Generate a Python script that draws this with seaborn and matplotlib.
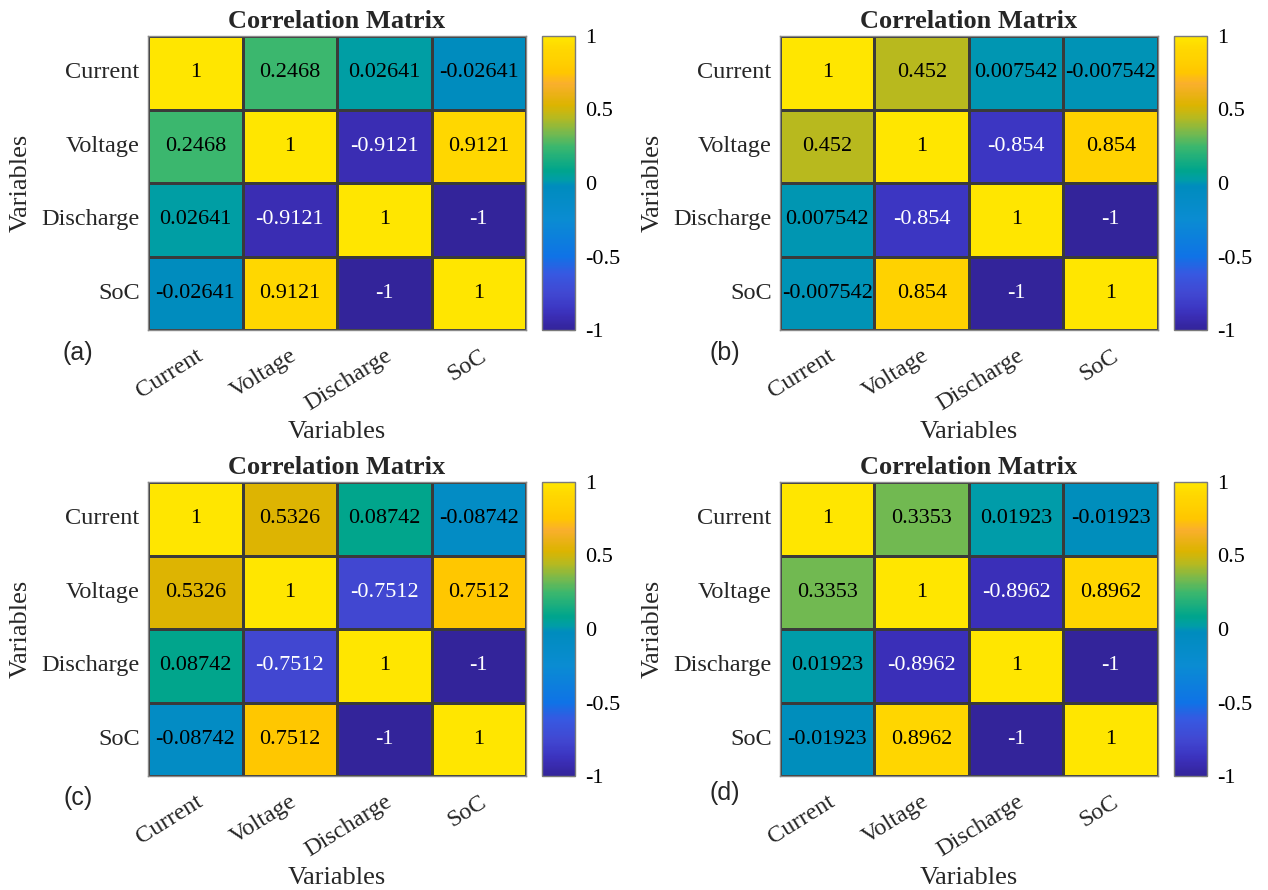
import numpy as np
import pandas as pd
import matplotlib
matplotlib.use("Agg")
import matplotlib.pyplot as plt
from matplotlib.colors import LinearSegmentedColormap
from matplotlib.ticker import FuncFormatter
import seaborn as sns

# ---- data -----------------------------------------------------------------
variables = ["Current", "Voltage", "Discharge", "SoC"]
panel_tags = ["(a)", "(b)", "(c)", "(d)"]

corr_a = [[1, 0.2468, 0.02641, -0.02641],
          [0.2468, 1, -0.9121, 0.9121],
          [0.02641, -0.9121, 1, -1],
          [-0.02641, 0.9121, -1, 1]]
corr_b = [[1, 0.452, 0.007542, -0.007542],
          [0.452, 1, -0.854, 0.854],
          [0.007542, -0.854, 1, -1],
          [-0.007542, 0.854, -1, 1]]
corr_c = [[1, 0.5326, 0.08742, -0.08742],
          [0.5326, 1, -0.7512, 0.7512],
          [0.08742, -0.7512, 1, -1],
          [-0.08742, 0.7512, -1, 1]]
corr_d = [[1, 0.3353, 0.01923, -0.01923],
          [0.3353, 1, -0.8962, 0.8962],
          [0.01923, -0.8962, 1, -1],
          [-0.01923, 0.8962, -1, 1]]
matrices = [corr_a, corr_b, corr_c, corr_d]

cbar_ticks = [-1, -0.5, 0, 0.5, 1]

# ---- style ----------------------------------------------------------------
sns.set_style("white")
plt.rcParams["font.family"] = ["Liberation Serif", "DejaVu Serif"]
plt.rcParams["axes.unicode_minus"] = False

# parula-like colour ramp
parula_stops = [
    (0.000, "#33249a"), (0.044, "#3a2db4"), (0.073, "#3c37c3"),
    (0.124, "#4148d2"), (0.190, "#3758e1"), (0.250, "#0f73e6"),
    (0.375, "#0a8cd2"), (0.487, "#008cbe"), (0.500, "#0094b4"),
    (0.513, "#009ea5"), (0.544, "#00a58c"), (0.623, "#3ab76e"),
    (0.668, "#73b950"), (0.726, "#b9b91e"), (0.766, "#dcb400"),
    (0.840, "#faaf2d"), (0.876, "#ffc600"), (0.927, "#ffd200"),
    (0.956, "#ffd700"), (1.000, "#ffe600"),
]
parula = LinearSegmentedColormap.from_list("parula_like", parula_stops, N=256)

W, H = 1268, 890
fig = plt.figure(figsize=(W / 100, H / 100), dpi=100)

# panel geometry in pixels: (heatmap left, top), shared width/height
hm_w, hm_h = 378, 294
cb_gap, cb_w = 16, 33
origins = [(148, 36), (780, 36), (148, 482), (780, 482)]
tag_xy = [(78, 353), (725, 353), (78, 798), (725, 793)]


def frac_rect(left, top, w, h):
    return [left / W, 1 - (top + h) / H, w / W, h / H]


for mat, tag, (x0, y0), (tx, ty) in zip(matrices, panel_tags, origins, tag_xy):
    ax = fig.add_axes(frac_rect(x0, y0, hm_w, hm_h))
    cax = fig.add_axes(frac_rect(x0 + hm_w + cb_gap, y0, cb_w, hm_h))

    df = pd.DataFrame(mat, index=variables, columns=variables)
    labels = df.map(lambda v: "%.4g" % v).values

    sns.heatmap(df, ax=ax, cbar_ax=cax, cmap=parula, vmin=-1, vmax=1,
                annot=labels, fmt="", linewidths=0.8, linecolor="#3a3a3a",
                annot_kws={"fontsize": 16, "family": "Liberation Serif"},
                cbar_kws={"ticks": cbar_ticks})

    # annotation colour: light text on dark cells
    for txt, val in zip(ax.texts, df.values.ravel()):
        r, g, b, _ = parula((val + 1) / 2)
        lum = 0.299 * r + 0.587 * g + 0.114 * b
        txt.set_color("white" if lum < 0.4 else "black")

    for sp in ax.spines.values():
        sp.set_visible(True)
        sp.set_color("#8a8a8a")
        sp.set_linewidth(1.0)

    ax.set_title("Correlation Matrix", fontsize=19, fontweight="bold", pad=6)
    ax.tick_params(axis="y", length=0, labelsize=17.5, pad=6)
    ax.tick_params(axis="x", length=0, labelsize=17.5, pad=11)
    ax.set_yticklabels(variables, rotation=0)
    ax.set_xticklabels(variables, rotation=32, ha="right", va="top",
                       rotation_mode="anchor")

    ax.set_xlabel("Variables", fontsize=19)
    ax.set_ylabel("Variables", fontsize=19)
    ax.xaxis.label.set_va("center")
    ax.yaxis.label.set_va("center")
    ax.xaxis.set_label_coords(0.5, (330 - 432) / 294)
    ax.yaxis.set_label_coords((21 - 148) / 378, 0.5)

    # colour bar
    cb = ax.collections[0].colorbar
    cb.outline.set_edgecolor("#7a7a7a")
    cb.outline.set_linewidth(1.0)
    cax.yaxis.set_major_formatter(FuncFormatter(lambda v, p: "%g" % v))
    cax.tick_params(axis="y", direction="in", length=4, width=0.8,
                    colors="#333333", labelcolor="black", labelsize=16, pad=7)

    # panel tag
    fig.text(tx / W, 1 - ty / H, tag, fontsize=18,
             family=["Liberation Sans", "DejaVu Sans"], ha="center", va="center")

fig.savefig("out.png", dpi=100)
